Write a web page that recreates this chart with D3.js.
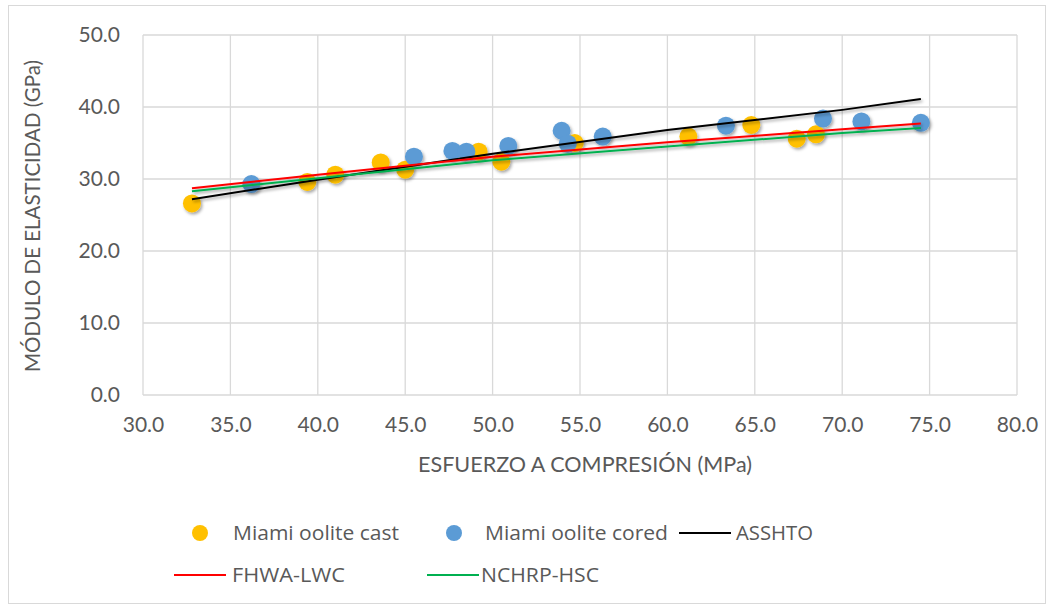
<!DOCTYPE html>
<html>
<head>
<meta charset="utf-8">
<script src="https://cdn.jsdelivr.net/npm/d3@7"></script>
<style>
  body { margin: 0; background: #fff; }
  svg text { font-family: Lato, "Open Sans", sans-serif; fill: #595959; }
</style>
</head>
<body>
<div id="chart"></div>
<script>
// data
const castX = [32.8, 39.4, 41.0, 43.6, 45.0, 49.2, 50.5, 54.7, 61.2, 64.8, 67.4, 68.5]
const castY = [26.6, 29.6, 30.6, 32.3, 31.3, 33.8, 32.4, 35.0, 35.9, 37.5, 35.6, 36.2]
const coredX = [36.2, 45.5, 47.7, 48.5, 50.9, 53.95, 54.3, 56.3, 63.35, 68.9, 71.1, 74.5]
const coredY = [29.3, 33.1, 33.9, 33.8, 34.6, 36.7, 34.9, 35.9, 37.4, 38.4, 38.0, 37.8]
const lineX = [32.8, 40.0, 50.0, 60.0, 70.0, 74.5]
const asshtoY = [27.2, 29.9, 33.5, 36.8, 39.6, 41.1]
const fhwaY = [28.7, 30.6, 33.1, 35.1, 36.9, 37.7]
const nchrpY = [28.3, 30.1, 32.6, 34.5, 36.4, 37.1]
const xTicks = [30, 35, 40, 45, 50, 55, 60, 65, 70, 75, 80]
const yTicks = [0, 10, 20, 30, 40, 50]

const width = 1054
const height = 609
const margin = { top: 35, right: 37, bottom: 214, left: 143 }
const w = width - margin.left - margin.right
const h = height - margin.top - margin.bottom

const svg = d3.select('#chart').append('svg')
    .attr('width', width)
    .attr('height', height)

// soft shadow like the office marker effect
const defs = svg.append('defs')
const filt = defs.append('filter').attr('id', 'shadow')
    .attr('x', '-50%').attr('y', '-50%').attr('width', '200%').attr('height', '200%')
filt.append('feDropShadow')
    .attr('dx', 1.5).attr('dy', 2).attr('stdDeviation', 1.8)
    .attr('flood-color', '#000').attr('flood-opacity', 0.35)

svg.append('rect')
    .attr('x', 8.5).attr('y', 5.5)
    .attr('width', 1037).attr('height', 598)
    .attr('fill', 'none')
    .attr('stroke', '#d9d9d9')

const g = svg.append('g')
    .attr('transform', `translate(${margin.left}, ${margin.top})`)

const x = d3.scaleLinear().domain([30, 80]).range([0, w])
const y = d3.scaleLinear().domain([0, 50]).range([h, 0])

// grid
g.append('g').selectAll('line.vg').data(xTicks)
    .join('line')
    .attr('x1', d => x(d)).attr('x2', d => x(d))
    .attr('y1', 0).attr('y2', h)
    .attr('stroke', '#d9d9d9').attr('stroke-width', 1.3)
g.append('g').selectAll('line.hg').data(yTicks)
    .join('line')
    .attr('x1', 0).attr('x2', w)
    .attr('y1', d => y(d)).attr('y2', d => y(d))
    .attr('stroke', '#d9d9d9').attr('stroke-width', 1.3)

// tick labels
const xAxis = d3.axisBottom(x).tickValues(xTicks).tickFormat(d3.format('.1f')).tickSize(0).tickPadding(22)
const yAxis = d3.axisLeft(y).tickValues(yTicks).tickFormat(d3.format('.1f')).tickSize(0).tickPadding(23)
const xg = g.append('g').attr('transform', `translate(0, ${h})`).call(xAxis)
const yg = g.append('g').call(yAxis)
for (const ax of [xg, yg]) {
    ax.select('.domain').remove()
    ax.selectAll('text')
        .style('font-family', 'Lato, sans-serif')
        .style('font-size', '21px')
        .attr('fill', '#595959')
}

// axis titles
svg.append('text')
    .attr('x', 585)
    .attr('y', 472)
    .attr('text-anchor', 'middle')
    .style('font-size', '21px')
    .attr('textLength', 334)
    .attr('lengthAdjust', 'spacingAndGlyphs')
    .text('ESFUERZO A COMPRESIÓN (MPa)')
svg.append('text')
    .attr('transform', `translate(40, 216) rotate(-90)`)
    .attr('text-anchor', 'middle')
    .style('font-size', '21px')
    .attr('textLength', 312)
    .attr('lengthAdjust', 'spacingAndGlyphs')
    .text('MÓDULO DE ELASTICIDAD (GPa)')

// reference lines
const lineGen = d3.line()
    .x((d, i) => x(lineX[i]))
    .y(d => y(d))
const lines = [
    { vals: asshtoY, color: '#000000' },
    { vals: fhwaY, color: '#ff0000' },
    { vals: nchrpY, color: '#00b050' }
]

// points
const cast = castX.map((v, i) => ({ x: v, y: castY[i] }))
const cored = coredX.map((v, i) => ({ x: v, y: coredY[i] }))
const pts = g.append('g').attr('filter', 'url(#shadow)')
pts.selectAll('circle.cast').data(cast)
    .join('circle')
    .attr('cx', d => x(d.x)).attr('cy', d => y(d.y))
    .attr('r', 9)
    .attr('fill', '#ffc000')
pts.selectAll('circle.cored').data(cored)
    .join('circle')
    .attr('cx', d => x(d.x)).attr('cy', d => y(d.y))
    .attr('r', 9)
    .attr('fill', '#5b9bd5')

const lg = g.append('g').attr('filter', 'url(#shadow)')
lines.forEach(l => {
    lg.append('path')
        .datum(l.vals)
        .attr('d', lineGen)
        .attr('fill', 'none')
        .attr('stroke', l.color)
        .attr('stroke-width', 2)
})

// legend, three columns in two rows
const leg = svg.append('g')
const legItems = [
    { type: 'dot', color: '#ffc000', label: 'Miami oolite cast', mx: 200, tx: 233, ty: 533, tw: 166 },
    { type: 'dot', color: '#5b9bd5', label: 'Miami oolite cored', mx: 454, tx: 485, ty: 533, tw: 183 },
    { type: 'line', color: '#000000', label: 'ASSHTO', mx: 705, tx: 736, ty: 533, tw: 77 },
    { type: 'line', color: '#ff0000', label: 'FHWA-LWC', mx: 200, tx: 232, ty: 575, tw: 113 },
    { type: 'line', color: '#00b050', label: 'NCHRP-HSC', mx: 453, tx: 481, ty: 575, tw: 118 }
]
legItems.forEach(d => {
    if (d.type === 'dot') {
        leg.append('circle')
            .attr('cx', d.mx).attr('cy', d.ty)
            .attr('r', 8)
            .attr('fill', d.color)
    } else {
        leg.append('line')
            .attr('x1', d.mx - 26).attr('x2', d.mx + 26)
            .attr('y1', d.ty).attr('y2', d.ty)
            .attr('stroke', d.color).attr('stroke-width', 2)
    }
    leg.append('text')
        .attr('x', d.tx).attr('y', d.ty)
        .attr('dy', '0.35em')
        .style('font-family', '"Open Sans", sans-serif')
        .style('font-size', '20px')
        .attr('textLength', d.tw)
        .attr('lengthAdjust', 'spacingAndGlyphs')
        .text(d.label)
})
</script>
</body>
</html>
